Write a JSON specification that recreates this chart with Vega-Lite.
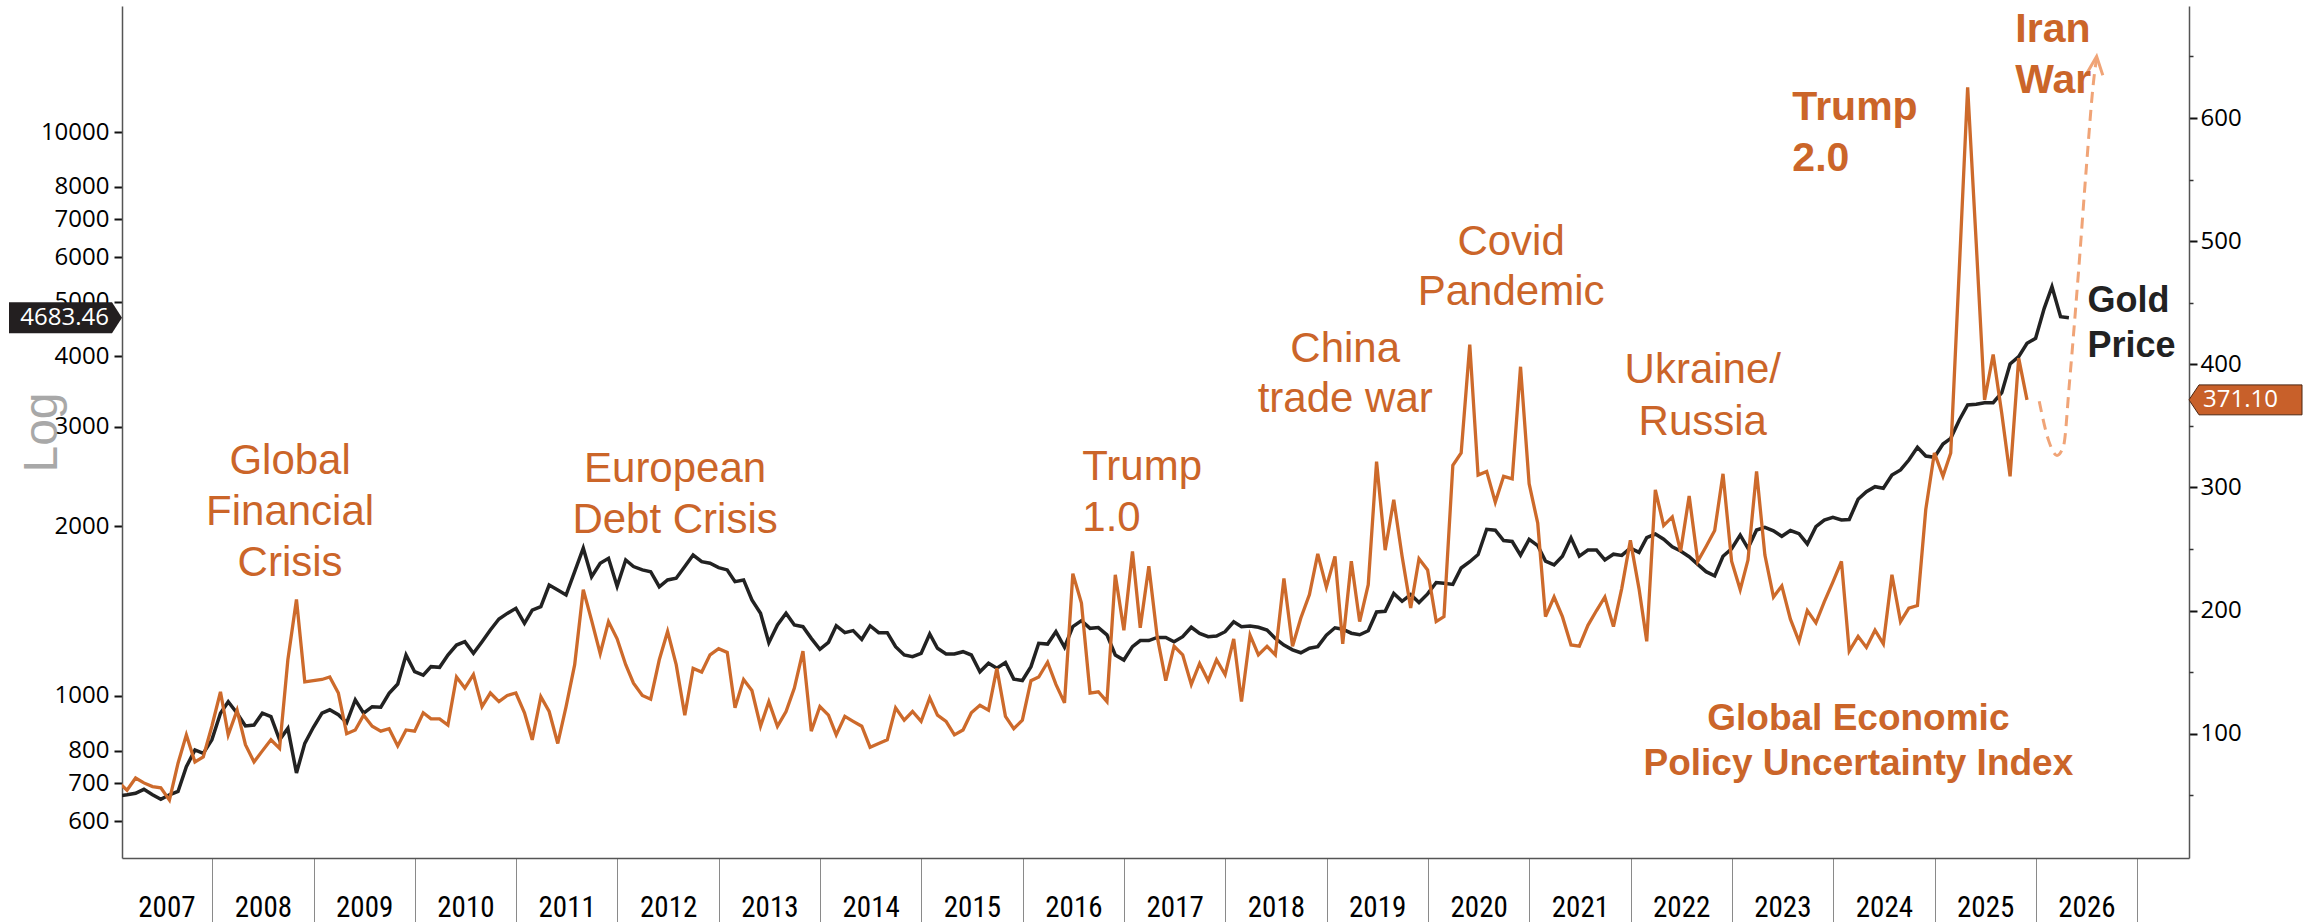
{
  "$schema": "https://vega.github.io/schema/vega-lite/v6.json",
  "width": 2067,
  "height": 852,
  "autosize": {"type": "none"},
  "padding": {"left": 122, "top": 6, "right": 116, "bottom": 64},
  "background": "white",
  "config": {"view": {"stroke": null}, "font": "Liberation Sans"},
  "datasets": {
    "series": [
      {"date":"2007-01-31","gold":665,"epu":60},{"date":"2007-02-28","gold":668,"epu":54},{"date":"2007-03-31","gold":672,"epu":64},{"date":"2007-04-30","gold":683,"epu":60},{"date":"2007-05-31","gold":668,"epu":57},{"date":"2007-06-30","gold":656,"epu":56},{"date":"2007-07-31","gold":668,"epu":46},{"date":"2007-08-31","gold":677,"epu":76},{"date":"2007-09-30","gold":749,"epu":99},{"date":"2007-10-31","gold":802,"epu":77},{"date":"2007-11-30","gold":791,"epu":81},{"date":"2007-12-31","gold":836,"epu":106},
      {"date":"2008-01-31","gold":932,"epu":134},{"date":"2008-02-28","gold":977,"epu":99},{"date":"2008-03-31","gold":932,"epu":119},{"date":"2008-04-30","gold":885,"epu":91},{"date":"2008-05-31","gold":888,"epu":77},{"date":"2008-06-30","gold":932,"epu":86},{"date":"2008-07-31","gold":919,"epu":95},{"date":"2008-08-31","gold":836,"epu":88},{"date":"2008-09-30","gold":876,"epu":160},{"date":"2008-10-31","gold":730,"epu":209},{"date":"2008-11-30","gold":824,"epu":142},{"date":"2008-12-31","gold":880,"epu":143},
      {"date":"2009-01-31","gold":932,"epu":144},{"date":"2009-02-28","gold":945,"epu":146},{"date":"2009-03-31","gold":926,"epu":133},{"date":"2009-04-30","gold":897,"epu":100},{"date":"2009-05-31","gold":984,"epu":103},{"date":"2009-06-30","gold":932,"epu":115},{"date":"2009-07-31","gold":957,"epu":106},{"date":"2009-08-31","gold":955,"epu":102},{"date":"2009-09-30","gold":1011,"epu":104},{"date":"2009-10-31","gold":1050,"epu":90},{"date":"2009-11-30","gold":1182,"epu":103},{"date":"2009-12-31","gold":1104,"epu":102},
      {"date":"2010-01-31","gold":1089,"epu":117},{"date":"2010-02-28","gold":1127,"epu":112},{"date":"2010-03-31","gold":1124,"epu":112},{"date":"2010-04-30","gold":1182,"epu":107},{"date":"2010-05-31","gold":1231,"epu":146},{"date":"2010-06-30","gold":1248,"epu":137},{"date":"2010-07-31","gold":1190,"epu":148},{"date":"2010-08-31","gold":1248,"epu":122},{"date":"2010-09-30","gold":1309,"epu":133},{"date":"2010-10-31","gold":1369,"epu":126},{"date":"2010-11-30","gold":1401,"epu":131},{"date":"2010-12-31","gold":1430,"epu":133},
      {"date":"2011-01-31","gold":1345,"epu":117},{"date":"2011-02-28","gold":1420,"epu":95},{"date":"2011-03-31","gold":1440,"epu":130},{"date":"2011-04-30","gold":1573,"epu":118},{"date":"2011-05-31","gold":1541,"epu":92},{"date":"2011-06-30","gold":1510,"epu":122},{"date":"2011-07-31","gold":1661,"epu":156},{"date":"2011-08-31","gold":1828,"epu":217},{"date":"2011-09-30","gold":1627,"epu":192},{"date":"2011-10-31","gold":1719,"epu":165},{"date":"2011-11-30","gold":1754,"epu":191},{"date":"2011-12-31","gold":1565,"epu":177},
      {"date":"2012-01-31","gold":1742,"epu":156},{"date":"2012-02-28","gold":1696,"epu":141},{"date":"2012-03-31","gold":1673,"epu":131},{"date":"2012-04-30","gold":1661,"epu":128},{"date":"2012-05-31","gold":1562,"epu":160},{"date":"2012-06-30","gold":1606,"epu":183},{"date":"2012-07-31","gold":1617,"epu":156},{"date":"2012-08-31","gold":1696,"epu":115},{"date":"2012-09-30","gold":1778,"epu":153},{"date":"2012-10-31","gold":1730,"epu":150},{"date":"2012-11-30","gold":1719,"epu":164},{"date":"2012-12-31","gold":1689,"epu":169},
      {"date":"2013-01-31","gold":1673,"epu":166},{"date":"2013-02-28","gold":1595,"epu":121},{"date":"2013-03-31","gold":1606,"epu":144},{"date":"2013-04-30","gold":1480,"epu":135},{"date":"2013-05-31","gold":1402,"epu":106},{"date":"2013-06-30","gold":1243,"epu":126},{"date":"2013-07-31","gold":1336,"epu":106},{"date":"2013-08-31","gold":1402,"epu":118},{"date":"2013-09-30","gold":1336,"epu":137},{"date":"2013-10-31","gold":1327,"epu":167},{"date":"2013-11-30","gold":1265,"epu":102},{"date":"2013-12-31","gold":1210,"epu":122},
      {"date":"2014-01-31","gold":1245,"epu":115},{"date":"2014-02-28","gold":1332,"epu":99},{"date":"2014-03-31","gold":1295,"epu":114},{"date":"2014-04-30","gold":1306,"epu":110},{"date":"2014-05-31","gold":1260,"epu":106},{"date":"2014-06-30","gold":1332,"epu":89},{"date":"2014-07-31","gold":1295,"epu":92},{"date":"2014-08-31","gold":1295,"epu":95},{"date":"2014-09-30","gold":1223,"epu":121},{"date":"2014-10-31","gold":1182,"epu":111},{"date":"2014-11-30","gold":1174,"epu":118},{"date":"2014-12-31","gold":1190,"epu":110},
      {"date":"2015-01-31","gold":1288,"epu":129},{"date":"2015-02-28","gold":1215,"epu":115},{"date":"2015-03-31","gold":1187,"epu":110},{"date":"2015-04-30","gold":1187,"epu":99},{"date":"2015-05-31","gold":1198,"epu":103},{"date":"2015-06-30","gold":1182,"epu":117},{"date":"2015-07-31","gold":1104,"epu":123},{"date":"2015-08-31","gold":1143,"epu":119},{"date":"2015-09-30","gold":1120,"epu":153},{"date":"2015-10-31","gold":1146,"epu":114},{"date":"2015-11-30","gold":1071,"epu":104},{"date":"2015-12-31","gold":1065,"epu":111},
      {"date":"2016-01-31","gold":1127,"epu":143},{"date":"2016-02-28","gold":1240,"epu":146},{"date":"2016-03-31","gold":1236,"epu":158},{"date":"2016-04-30","gold":1300,"epu":140},{"date":"2016-05-31","gold":1220,"epu":125},{"date":"2016-06-30","gold":1327,"epu":230},{"date":"2016-07-31","gold":1360,"epu":206},{"date":"2016-08-31","gold":1318,"epu":133},{"date":"2016-09-30","gold":1322,"epu":134},{"date":"2016-10-31","gold":1283,"epu":126},{"date":"2016-11-30","gold":1182,"epu":229},{"date":"2016-12-31","gold":1158,"epu":184},
      {"date":"2017-01-31","gold":1223,"epu":248},{"date":"2017-02-28","gold":1254,"epu":186},{"date":"2017-03-31","gold":1254,"epu":236},{"date":"2017-04-30","gold":1270,"epu":179},{"date":"2017-05-31","gold":1270,"epu":143},{"date":"2017-06-30","gold":1248,"epu":171},{"date":"2017-07-31","gold":1274,"epu":164},{"date":"2017-08-31","gold":1324,"epu":140},{"date":"2017-09-30","gold":1291,"epu":157},{"date":"2017-10-31","gold":1274,"epu":143},{"date":"2017-11-30","gold":1277,"epu":160},{"date":"2017-12-31","gold":1300,"epu":148},
      {"date":"2018-01-31","gold":1354,"epu":177},{"date":"2018-02-28","gold":1327,"epu":126},{"date":"2018-03-31","gold":1331,"epu":180},{"date":"2018-04-30","gold":1324,"epu":164},{"date":"2018-05-31","gold":1309,"epu":171},{"date":"2018-06-30","gold":1265,"epu":164},{"date":"2018-07-31","gold":1231,"epu":226},{"date":"2018-08-31","gold":1207,"epu":171},{"date":"2018-09-30","gold":1193,"epu":194},{"date":"2018-10-31","gold":1215,"epu":213},{"date":"2018-11-30","gold":1223,"epu":246},{"date":"2018-12-31","gold":1282,"epu":219},
      {"date":"2019-01-31","gold":1321,"epu":244},{"date":"2019-02-28","gold":1313,"epu":173},{"date":"2019-03-31","gold":1292,"epu":240},{"date":"2019-04-30","gold":1284,"epu":191},{"date":"2019-05-31","gold":1305,"epu":221},{"date":"2019-06-30","gold":1409,"epu":321},{"date":"2019-07-31","gold":1413,"epu":249},{"date":"2019-08-31","gold":1520,"epu":290},{"date":"2019-09-30","gold":1472,"epu":244},{"date":"2019-10-31","gold":1513,"epu":202},{"date":"2019-11-30","gold":1464,"epu":242},{"date":"2019-12-31","gold":1517,"epu":233},
      {"date":"2020-01-31","gold":1589,"epu":191},{"date":"2020-02-28","gold":1585,"epu":195},{"date":"2020-03-31","gold":1577,"epu":318},{"date":"2020-04-30","gold":1686,"epu":328},{"date":"2020-05-31","gold":1730,"epu":416},{"date":"2020-06-30","gold":1781,"epu":310},{"date":"2020-07-31","gold":1975,"epu":313},{"date":"2020-08-31","gold":1968,"epu":288},{"date":"2020-09-30","gold":1886,"epu":309},{"date":"2020-10-31","gold":1879,"epu":307},{"date":"2020-11-30","gold":1777,"epu":398},{"date":"2020-12-31","gold":1895,"epu":303},
      {"date":"2021-01-31","gold":1848,"epu":271},{"date":"2021-02-28","gold":1734,"epu":195},{"date":"2021-03-31","gold":1708,"epu":211},{"date":"2021-04-30","gold":1769,"epu":195},{"date":"2021-05-31","gold":1907,"epu":172},{"date":"2021-06-30","gold":1770,"epu":171},{"date":"2021-07-31","gold":1814,"epu":188},{"date":"2021-08-31","gold":1814,"epu":200},{"date":"2021-09-30","gold":1743,"epu":211},{"date":"2021-10-31","gold":1784,"epu":187},{"date":"2021-11-30","gold":1775,"epu":218},{"date":"2021-12-31","gold":1829,"epu":257},
      {"date":"2022-01-31","gold":1797,"epu":218},{"date":"2022-02-28","gold":1909,"epu":175},{"date":"2022-03-31","gold":1937,"epu":298},{"date":"2022-04-30","gold":1897,"epu":269},{"date":"2022-05-31","gold":1838,"epu":276},{"date":"2022-06-30","gold":1807,"epu":248},{"date":"2022-07-31","gold":1766,"epu":293},{"date":"2022-08-31","gold":1711,"epu":240},{"date":"2022-09-30","gold":1661,"epu":252},{"date":"2022-10-31","gold":1633,"epu":265},{"date":"2022-11-30","gold":1769,"epu":311},{"date":"2022-12-31","gold":1824,"epu":240},
      {"date":"2023-01-31","gold":1928,"epu":217},{"date":"2023-02-28","gold":1827,"epu":241},{"date":"2023-03-31","gold":1969,"epu":313},{"date":"2023-04-30","gold":1990,"epu":245},{"date":"2023-05-31","gold":1963,"epu":211},{"date":"2023-06-30","gold":1919,"epu":220},{"date":"2023-07-31","gold":1965,"epu":193},{"date":"2023-08-31","gold":1940,"epu":175},{"date":"2023-09-30","gold":1860,"epu":200},{"date":"2023-10-31","gold":1996,"epu":190},{"date":"2023-11-30","gold":2051,"epu":207},{"date":"2023-12-31","gold":2074,"epu":223},
      {"date":"2024-01-31","gold":2051,"epu":240},{"date":"2024-02-28","gold":2055,"epu":167},{"date":"2024-03-31","gold":2232,"epu":179},{"date":"2024-04-30","gold":2302,"epu":170},{"date":"2024-05-31","gold":2350,"epu":184},{"date":"2024-06-30","gold":2335,"epu":173},{"date":"2024-07-31","gold":2465,"epu":229},{"date":"2024-08-31","gold":2516,"epu":191},{"date":"2024-09-30","gold":2620,"epu":202},{"date":"2024-10-31","gold":2761,"epu":204},{"date":"2024-11-30","gold":2664,"epu":282},{"date":"2024-12-31","gold":2650,"epu":328},
      {"date":"2025-01-31","gold":2798,"epu":309},{"date":"2025-02-28","gold":2863,"epu":328},{"date":"2025-03-31","gold":3086,"epu":478},{"date":"2025-04-30","gold":3281,"epu":625},{"date":"2025-05-31","gold":3290,"epu":498},{"date":"2025-06-30","gold":3311,"epu":371},{"date":"2025-07-31","gold":3311,"epu":408},{"date":"2025-08-31","gold":3450,"epu":360},{"date":"2025-09-30","gold":3879,"epu":309},{"date":"2025-10-31","gold":3996,"epu":405},{"date":"2025-11-30","gold":4221,"epu":371.1},{"date":"2025-12-31","gold":4307,"epu":null},
      {"date":"2026-01-31","gold":4868,"epu":null},{"date":"2026-02-28","gold":5318,"epu":null},{"date":"2026-03-31","gold":4704,"epu":null},{"date":"2026-04-30","gold":4683.46,"epu":null}
    ],
    "projection": [
      {"date":"2026-01-13","epu":370},{"date":"2026-02-16","epu":338},{"date":"2026-03-18","epu":326},{"date":"2026-04-11","epu":334},{"date":"2026-05-02","epu":385},{"date":"2026-06-05","epu":479},{"date":"2026-07-02","epu":560},{"date":"2026-07-30","epu":634},{"date":"2026-08-08","epu":649}
    ]
  },
  "layer": [
    {
      "layer": [
        {
          "data": {"name": "series"},
          "mark": {"type": "line", "color": "#222222", "strokeWidth": 3.5, "clip": true},
          "encoding": {
            "x": {"field": "date", "type": "temporal",
              "scale": {"domain": [{"year":2007,"month":2,"date":10},{"year":2027,"month":7,"date":7}]},
              "axis": {"orient": "bottom", "title": null, "labels": false, "grid": false, "ticks": true, "tickSize": 64, "tickColor": "#8a8a8a", "tickWidth": 1,
                "domain": true, "domainColor": "#555555", "domainWidth": 1.5,
                "values": [{"year":2008,"month":1,"date":1},{"year":2009,"month":1,"date":1},{"year":2010,"month":1,"date":1},{"year":2011,"month":1,"date":1},{"year":2012,"month":1,"date":1},{"year":2013,"month":1,"date":1},{"year":2014,"month":1,"date":1},{"year":2015,"month":1,"date":1},{"year":2016,"month":1,"date":1},{"year":2017,"month":1,"date":1},{"year":2018,"month":1,"date":1},{"year":2019,"month":1,"date":1},{"year":2020,"month":1,"date":1},{"year":2021,"month":1,"date":1},{"year":2022,"month":1,"date":1},{"year":2023,"month":1,"date":1},{"year":2024,"month":1,"date":1},{"year":2025,"month":1,"date":1},{"year":2026,"month":1,"date":1},{"year":2027,"month":1,"date":1}]}},
            "y": {"field": "gold", "type": "quantitative",
              "scale": {"type": "log", "domain": [516, 16730], "nice": false},
              "axis": {"orient": "left", "values": [600,700,800,1000,2000,3000,4000,5000,6000,7000,8000,10000], "format": "d",
                "labelFont": "Open Sans", "labelFontSize": 24, "labelColor": "#000000", "labelPadding": 5,
                "tickSize": 8, "tickWidth": 2, "tickColor": "#111111", "grid": false,
                "domainColor": "#555555", "domainWidth": 1.5,
                "title": "Log", "titleFont": "Liberation Sans", "titleFontSize": 48, "titleFontWeight": "normal", "titleColor": "#A8A8A8",
                "titleX": -80, "titleY": 426, "titleAngle": -90, "titleAlign": "center", "titleBaseline": "middle"}}
          }
        },
        {
          "data": {"values": [{"gold": 4683.46}]},
          "mark": {"type": "point", "shape": "M-1,-0.274L0.823,-0.274L1,0L0.823,0.274L-1,0.274Z", "size": 12769, "filled": true, "color": "#231F20", "opacity": 1, "strokeWidth": 0, "xOffset": -56.5},
          "encoding": {
            "x": {"datum": {"year":2007,"month":2,"date":10}, "type": "temporal", "scale": {"domain": [{"year":2007,"month":2,"date":10},{"year":2027,"month":7,"date":7}]}, "axis": null},
            "y": {"field": "gold", "type": "quantitative", "scale": {"type": "log", "domain": [516, 16730], "nice": false}, "axis": null}
          }
        },
        {
          "data": {"values": [{"gold": 4683.46}]},
          "mark": {"type": "text", "align": "right", "baseline": "middle", "dx": -13, "font": "Open Sans", "fontSize": 24, "color": "#FFFFFF"},
          "encoding": {
            "x": {"datum": {"year":2007,"month":2,"date":10}, "type": "temporal", "scale": {"domain": [{"year":2007,"month":2,"date":10},{"year":2027,"month":7,"date":7}]}, "axis": null},
            "y": {"field": "gold", "type": "quantitative", "scale": {"type": "log", "domain": [516, 16730], "nice": false}, "axis": null},
            "text": {"field": "gold", "type": "quantitative", "format": ".2f"}
          }
        },
        {
          "data": {"values": [{"date": "2026-07-06", "gold": 4801, "label": "Gold"}, {"date": "2026-07-06", "gold": 3996, "label": "Price"}]},
          "mark": {"type": "text", "align": "left", "baseline": "alphabetic", "font": "Liberation Sans", "fontWeight": "bold", "fontSize": 36, "color": "#222222"},
          "encoding": {
            "x": {"field": "date", "type": "temporal", "scale": {"domain": [{"year":2007,"month":2,"date":10},{"year":2027,"month":7,"date":7}]}, "axis": null},
            "y": {"field": "gold", "type": "quantitative", "scale": {"type": "log", "domain": [516, 16730], "nice": false}, "axis": null},
            "text": {"field": "label", "type": "nominal"}
          }
        }
      ],
      "resolve": {"axis": {"x": "independent", "y": "independent"}}
    },
    {
      "layer": [
        {
          "data": {"name": "series"},
          "mark": {"type": "line", "color": "#CD6A2B", "strokeWidth": 3.3, "clip": true},
          "encoding": {
            "x": {"field": "date", "type": "temporal",
              "scale": {"domain": [{"year":2007,"month":2,"date":10},{"year":2027,"month":7,"date":7}]},
              "axis": {"orient": "bottom", "title": null, "format": "%Y", "ticks": false, "tickSize": 0, "domain": false, "grid": false,
                "labelFont": "Liberation Sans Narrow, Roboto Condensed, DejaVu Sans Condensed, Liberation Sans", "labelFontSize": 29, "labelColor": "#000000",
                "labelPadding": 49, "labelBaseline": "middle", "labelAlign": "center", "labelFlush": false, "labelOverlap": false,
                "values": [{"year":2007,"month":7,"date":20},{"year":2008,"month":7,"date":2},{"year":2009,"month":7,"date":2},{"year":2010,"month":7,"date":2},{"year":2011,"month":7,"date":2},{"year":2012,"month":7,"date":2},{"year":2013,"month":7,"date":2},{"year":2014,"month":7,"date":2},{"year":2015,"month":7,"date":2},{"year":2016,"month":7,"date":2},{"year":2017,"month":7,"date":2},{"year":2018,"month":7,"date":2},{"year":2019,"month":7,"date":2},{"year":2020,"month":7,"date":2},{"year":2021,"month":7,"date":2},{"year":2022,"month":7,"date":2},{"year":2023,"month":7,"date":2},{"year":2024,"month":7,"date":2},{"year":2025,"month":7,"date":2},{"year":2026,"month":7,"date":2}]}},
            "y": {"field": "epu", "type": "quantitative",
              "scale": {"domain": [-1, 691], "nice": false, "zero": false},
              "axis": {"orient": "right", "values": [100,200,300,400,500,600], "title": null,
                "labelFont": "Open Sans", "labelFontSize": 24, "labelColor": "#000000", "labelPadding": 3,
                "tickSize": 8, "tickWidth": 2, "tickColor": "#111111", "grid": false,
                "domainColor": "#555555", "domainWidth": 1.5}}
          }
        },
        {
          "data": {"name": "projection"},
          "mark": {"type": "line", "color": "#F0A477", "strokeWidth": 3, "strokeDash": [11, 7], "interpolate": "monotone"},
          "encoding": {
            "x": {"field": "date", "type": "temporal", "scale": {"domain": [{"year":2007,"month":2,"date":10},{"year":2027,"month":7,"date":7}]}, "axis": null},
            "y": {"field": "epu", "type": "quantitative", "scale": {"domain": [-1, 691], "nice": false, "zero": false}, "axis": null}
          }
        },
        {
          "data": {"values": [{"date": "2026-08-08", "epu": 650}]},
          "mark": {"type": "point", "shape": "M-0.45,1L0,0L0.45,1", "size": 1296, "filled": false, "color": "#F0A477", "opacity": 1, "strokeWidth": 3, "angle": 6},
          "encoding": {
            "x": {"field": "date", "type": "temporal", "scale": {"domain": [{"year":2007,"month":2,"date":10},{"year":2027,"month":7,"date":7}]}, "axis": null},
            "y": {"field": "epu", "type": "quantitative", "scale": {"domain": [-1, 691], "nice": false, "zero": false}, "axis": null}
          }
        },
        {
          "data": {"values": [{"epu": 371.1}]},
          "mark": {"type": "point", "shape": "M1,-0.265L-0.823,-0.265L-1,0L-0.823,0.265L1,0.265Z", "size": 12769, "filled": true, "color": "#C8602A", "stroke": "#4A2410", "strokeWidth": 1, "opacity": 1, "xOffset": 56.5},
          "encoding": {
            "x": {"datum": {"year":2027,"month":7,"date":7}, "type": "temporal", "scale": {"domain": [{"year":2007,"month":2,"date":10},{"year":2027,"month":7,"date":7}]}, "axis": null},
            "y": {"field": "epu", "type": "quantitative", "scale": {"domain": [-1, 691], "nice": false, "zero": false},
              "axis": {"orient": "right", "values": [50,150,250,350,450,550,650], "labels": false, "domain": false, "grid": false, "title": null, "tickSize": 4, "tickWidth": 1.5, "tickColor": "#333333"}}
          }
        },
        {
          "data": {"values": [{"epu": 371.1}]},
          "mark": {"type": "text", "align": "left", "baseline": "middle", "dx": 14, "font": "Open Sans", "fontSize": 24, "color": "#FFFFFF"},
          "encoding": {
            "x": {"datum": {"year":2027,"month":7,"date":7}, "type": "temporal", "scale": {"domain": [{"year":2007,"month":2,"date":10},{"year":2027,"month":7,"date":7}]}, "axis": null},
            "y": {"field": "epu", "type": "quantitative", "scale": {"domain": [-1, 691], "nice": false, "zero": false}, "axis": null},
            "text": {"field": "epu", "type": "quantitative", "format": ".2f"}
          }
        },
        {
          "data": {"values": [
            {"date": "2008-10-08", "epu": 310.9, "label": "Global"},
            {"date": "2008-10-08", "epu": 269.5, "label": "Financial"},
            {"date": "2008-10-08", "epu": 228.0, "label": "Crisis"},
            {"date": "2012-07-27", "epu": 304.4, "label": "European"},
            {"date": "2012-07-27", "epu": 262.7, "label": "Debt Crisis"},
            {"date": "2019-03-09", "epu": 402.1, "label": "China"},
            {"date": "2019-03-09", "epu": 361.5, "label": "trade war"},
            {"date": "2020-10-27", "epu": 488.8, "label": "Covid"},
            {"date": "2020-10-27", "epu": 448.1, "label": "Pandemic"},
            {"date": "2022-09-18", "epu": 384.6, "label": "Ukraine/"},
            {"date": "2022-09-18", "epu": 342.6, "label": "Russia"}
          ]},
          "mark": {"type": "text", "align": "center", "baseline": "alphabetic", "font": "Liberation Sans", "fontSize": 42, "color": "#CB6529"},
          "encoding": {
            "x": {"field": "date", "type": "temporal", "scale": {"domain": [{"year":2007,"month":2,"date":10},{"year":2027,"month":7,"date":7}]}, "axis": null},
            "y": {"field": "epu", "type": "quantitative", "scale": {"domain": [-1, 691], "nice": false, "zero": false}, "axis": null},
            "text": {"field": "label", "type": "nominal"}
          }
        },
        {
          "data": {"values": [
            {"date": "2016-08-03", "epu": 306.0, "label": "Trump"},
            {"date": "2016-08-03", "epu": 264.8, "label": "1.0"}
          ]},
          "mark": {"type": "text", "align": "left", "baseline": "alphabetic", "font": "Liberation Sans", "fontSize": 42, "color": "#CB6529"},
          "encoding": {
            "x": {"field": "date", "type": "temporal", "scale": {"domain": [{"year":2007,"month":2,"date":10},{"year":2027,"month":7,"date":7}]}, "axis": null},
            "y": {"field": "epu", "type": "quantitative", "scale": {"domain": [-1, 691], "nice": false, "zero": false}, "axis": null},
            "text": {"field": "label", "type": "nominal"}
          }
        },
        {
          "data": {"values": [
            {"date": "2023-08-07", "epu": 598.4, "label": "Trump"},
            {"date": "2023-08-07", "epu": 557.2, "label": "2.0"},
            {"date": "2025-10-19", "epu": 662.0, "label": "Iran"},
            {"date": "2025-10-19", "epu": 620.1, "label": "War"}
          ]},
          "mark": {"type": "text", "align": "left", "baseline": "alphabetic", "font": "Liberation Sans", "fontWeight": "bold", "fontSize": 41, "color": "#CB6529"},
          "encoding": {
            "x": {"field": "date", "type": "temporal", "scale": {"domain": [{"year":2007,"month":2,"date":10},{"year":2027,"month":7,"date":7}]}, "axis": null},
            "y": {"field": "epu", "type": "quantitative", "scale": {"domain": [-1, 691], "nice": false, "zero": false}, "axis": null},
            "text": {"field": "label", "type": "nominal"}
          }
        },
        {
          "data": {"values": [
            {"date": "2024-04-01", "epu": 102.96, "label": "Global Economic"},
            {"date": "2024-04-01", "epu": 66.4, "label": "Policy Uncertainty Index"}
          ]},
          "mark": {"type": "text", "align": "center", "baseline": "alphabetic", "font": "Liberation Sans", "fontWeight": "bold", "fontSize": 37, "color": "#CB6529"},
          "encoding": {
            "x": {"field": "date", "type": "temporal", "scale": {"domain": [{"year":2007,"month":2,"date":10},{"year":2027,"month":7,"date":7}]}, "axis": null},
            "y": {"field": "epu", "type": "quantitative", "scale": {"domain": [-1, 691], "nice": false, "zero": false}, "axis": null},
            "text": {"field": "label", "type": "nominal"}
          }
        }
      ],
      "resolve": {"axis": {"x": "independent", "y": "independent"}}
    }
  ],
  "resolve": {"scale": {"y": "independent"}, "axis": {"x": "independent", "y": "independent"}}
}
